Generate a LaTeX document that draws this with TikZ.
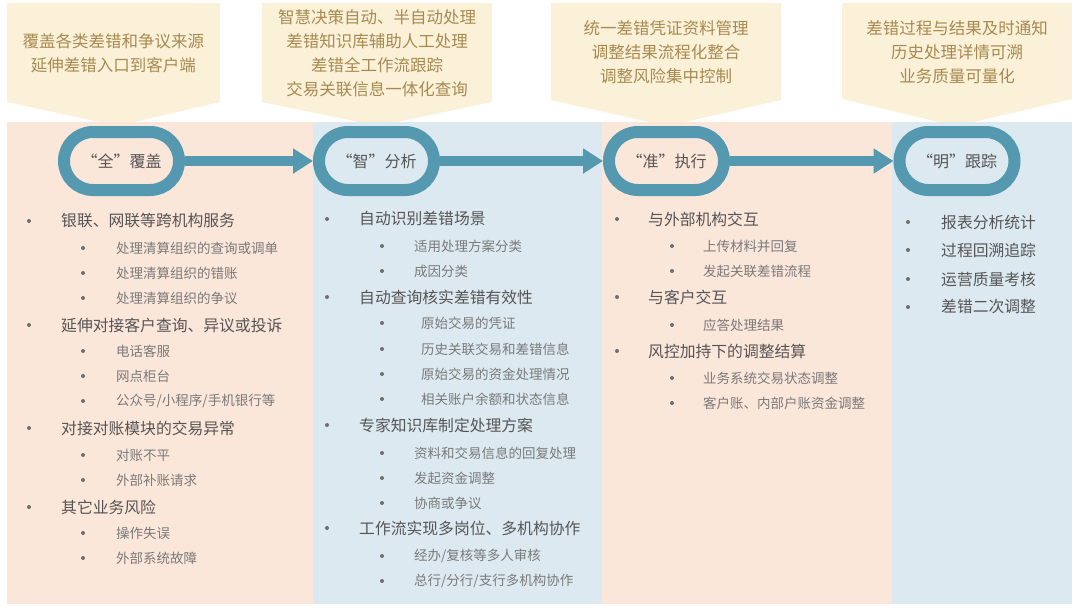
\documentclass[tikz,border=0pt]{standalone}
\usepackage{fontspec}
\setmainfont{Noto Sans CJK SC}
\usepackage{xcolor}
\usepackage{tikz}
\usetikzlibrary{calc,arrows.meta}
\definecolor{bg}{HTML}{FFFFFF}
\definecolor{peach}{HTML}{FBE6DA}
\definecolor{ice}{HTML}{DDE9F0}
\definecolor{note}{HTML}{FBF1D9}
\definecolor{notetext}{HTML}{A78A50}
\definecolor{stage}{HTML}{5499AF}
\definecolor{ink}{HTML}{555555}
\definecolor{inkl}{HTML}{7A7A7A}
\tikzset{
  notebox/.style={fill=note},
  notelab/.style={text=notetext, align=center, inner sep=0pt, font=\fontsize{16.5}{24}\selectfont},
  stagebox/.style={draw=stage, line width=12pt, rounded corners=28.9pt, minimum width=115pt,
    minimum height=58pt, text=ink, font=\fontsize{16}{18}\selectfont},
  flow/.style={draw=stage, line width=10pt, -{Triangle[length=20pt,width=24pt]}},
  dot/.style={circle, fill=ink!85, inner sep=0pt, minimum size=4pt},
  itema/.style={anchor=west, inner sep=0pt, text=ink, font=\fontsize{15.8}{18}\selectfont},
  itemb/.style={anchor=west, inner sep=0pt, text=inkl, font=\fontsize{13.5}{16}\selectfont},
}
\begin{document}
\begin{tikzpicture}[x=1pt,y=-1pt]
  \useasboundingbox (0,0) rectangle (1080,611);
  \fill[bg] (0,0) rectangle (1080,611);

  % callouts
  \fill[notebox] (7,3) -- (220,3) -- (220,102) -- (118,126) -- (7,102) -- cycle;
  \fill[notebox] (262,3) -- (492,3) -- (492,102) -- (378,126) -- (262,102) -- cycle;
  \fill[notebox] (551,3) -- (781,3) -- (781,100) -- (667,126) -- (551,100) -- cycle;
  \fill[notebox] (842,3) -- (1072,3) -- (1072,99) -- (956,126) -- (842,99) -- cycle;
  \node[notelab] (quannote) at (113.5,53) {覆盖各类差错和争议来源\\延伸差错入口到客户端};
  \node[notelab] (zhinote) at (377,53) {智慧决策自动、半自动处理\\差错知识库辅助人工处理\\差错全工作流跟踪\\交易关联信息一体化查询};
  \node[notelab] (zhunnote) at (666,52.5) {统一差错凭证资料管理\\调整结果流程化整合\\调整风险集中控制};
  \node[notelab] (mingnote) at (957,52.5) {差错过程与结果及时通知\\历史处理详情可溯\\业务质量可量化};

  % columns
  \fill[peach] (7,122) rectangle (313,604);
  \fill[ice] (313,122) rectangle (602,604);
  \fill[peach] (602,122) rectangle (892,604);
  \fill[ice] (892,122) rectangle (1072,604);

  % stages
  \node[stagebox] (quan) at (121.5,161) {“全”覆盖};
  \node[stagebox] (zhi) at (376.5,161) {“智”分析};
  \node[stagebox] (zhun) at (666.5,161) {“准”执行};
  \node[stagebox] (ming) at (957,161) {“明”跟踪};
  \draw[flow] (quan) -- (zhi);
  \draw[flow] (zhi) -- (zhun);
  \draw[flow] (zhun) -- (ming);

  % column lists
  \foreach \bx/\x/\y/\s/\t [count=\i] in {
    29/61/221/itema/银联、网联等跨机构服务,
    83/116/248/itemb/处理清算组织的查询或调单,
    83/116/273/itemb/处理清算组织的错账,
    83/116/298/itemb/处理清算组织的争议,
    29/61/325/itema/延伸对接客户查询、异议或投诉,
    83/116/351/itemb/电话客服,
    83/116/376/itemb/网点柜台,
    83/116/401/itemb/{公众号/小程序/手机银行等},
    29/61/428/itema/对接对账模块的交易异常,
    83/116/455/itemb/对账不平,
    83/116/480/itemb/外部补账请求,
    29/61/507/itema/其它业务风险,
    83/116/533/itemb/操作失误,
    83/116/558/itemb/外部系统故障} {
    \node[dot] (qb\i) at (\bx,\y) {};
    \node[\s] (qi\i) at (\x,\y) {\t};
  }
  \foreach \bx/\x/\y/\s/\t [count=\i] in {
    327/359/219/itema/自动识别差错场景,
    382/414/246/itemb/适用处理方案分类,
    382/414/271/itemb/成因分类,
    327/359/297/itema/自动查询核实差错有效性,
    382/421/323/itemb/原始交易的凭证,
    382/421/349/itemb/历史关联交易和差错信息,
    382/421/374/itemb/原始交易的资金处理情况,
    382/421/399/itemb/相关账户余额和状态信息,
    327/359/425/itema/专家知识库制定处理方案,
    382/414/453/itemb/资料和交易信息的回复处理,
    382/414/478/itemb/发起资金调整,
    382/414/503/itemb/协商或争议,
    327/359/528/itema/工作流实现多岗位、多机构协作,
    382/414/556/itemb/{经办/复核等多人审核},
    382/414/581/itemb/{总行/分行/支行多机构协作}} {
    \node[dot] (zb\i) at (\bx,\y) {};
    \node[\s] (zi\i) at (\x,\y) {\t};
  }
  \foreach \bx/\x/\y/\s/\t [count=\i] in {
    617/648/219/itema/与外部机构交互,
    672/703/246/itemb/上传材料并回复,
    672/703/271/itemb/发起关联差错流程,
    617/648/297/itema/与客户交互,
    672/703/325/itemb/应答处理结果,
    617/648/351/itema/风控加持下的调整结算,
    672/703/378/itemb/业务系统交易状态调整,
    672/703/403/itemb/客户账、内部户账资金调整} {
    \node[dot] (eb\i) at (\bx,\y) {};
    \node[\s] (ei\i) at (\x,\y) {\t};
  }
  \foreach \y/\t [count=\i] in {222/报表分析统计, 250/过程回溯追踪, 279/运营质量考核, 307/差错二次调整} {
    \node[dot] (mb\i) at (908,\y) {};
    \node[itema] (mi\i) at (941,\y) {\t};
  }
\end{tikzpicture}
\end{document}
